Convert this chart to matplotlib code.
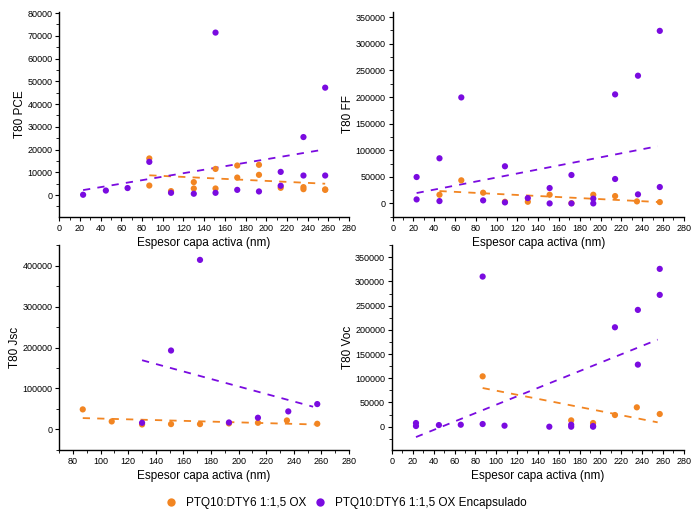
import matplotlib
matplotlib.use("Agg")
import matplotlib.pyplot as plt
from matplotlib.ticker import MultipleLocator, FixedLocator
import numpy as np

plt.rcParams['font.family'] = ['Liberation Sans', 'DejaVu Sans']

ORANGE = '#F28522'
PURPLE = '#7A0BE0'
label_or = 'PTQ10:DTY6 1:1,5 OX'
label_pu = 'PTQ10:DTY6 1:1,5 OX Encapsulado'
xlabel = 'Espesor capa activa (nm)'

# ---- T80 PCE ----
pce_or_x = [87, 87, 108, 130, 130, 151, 151, 172, 172, 193, 193, 214, 236, 236, 257, 257]
pce_or_y = [16100, 4200, 1750, 5700, 2900, 11500, 2900, 13000, 7700, 13300, 8900, 3200, 3500, 2600, 2500, 2300]
pce_pu_x = [23, 45, 66, 87, 108, 130, 151, 151, 172, 193, 214, 214, 236, 236, 257, 257]
pce_pu_y = [150, 2000, 3100, 14600, 1000, 600, 71400, 1000, 2300, 1600, 10200, 4100, 25500, 8600, 47200, 8600]
pce_tr_or_x = [87, 257]
pce_tr_or_y = [8700, 5000]
pce_tr_pu_x = [23, 257]
pce_tr_pu_y = [2200, 20100]
pce_yticks = [0, 10000, 20000, 30000, 40000, 50000, 60000, 70000, 80000]

# ---- T80 FF ----
ff_or_x = [45, 66, 87, 108, 130, 151, 172, 193, 214, 235, 257]
ff_or_y = [16300, 43400, 20100, 3100, 3100, 16300, 500, 16300, 13800, 3800, 2500]
ff_pu_x = [23, 23, 45, 45, 66, 87, 108, 108, 130, 151, 151, 172, 172, 193, 193, 214, 214, 236, 236, 257, 257]
ff_pu_y = [49600, 7500, 84800, 4400, 199200, 5700, 69800, 1900, 10000, 28900, 0, 53400, 0, 9000, 0, 204900, 45900, 240000, 17000, 324300, 30800]
ff_tr_or_x = [45, 257]
ff_tr_or_y = [23200, 2500]
ff_tr_pu_x = [23, 255]
ff_tr_pu_y = [19500, 107500]
ff_yticks = [0, 50000, 100000, 150000, 200000, 250000, 300000, 350000]

# ---- T80 Jsc ----
jsc_or_x = [87, 108, 130, 151, 172, 193, 214, 235, 257]
jsc_or_y = [49000, 19600, 12200, 13100, 13100, 14700, 16300, 22000, 13900]
jsc_pu_x = [130, 151, 172, 193, 214, 236, 257]
jsc_pu_y = [16300, 192700, 413900, 17100, 28600, 44100, 62000]
jsc_tr_or_x = [87, 255]
jsc_tr_or_y = [27800, 12200]
jsc_tr_pu_x = [130, 254]
jsc_tr_pu_y = [169000, 55500]
jsc_yticks = [0, 100000, 200000, 300000, 400000]

# ---- T80 Voc ----
voc_or_x = [87, 172, 193, 214, 235, 257]
voc_or_y = [104000, 13100, 7600, 24100, 40000, 26200]
voc_pu_x = [23, 23, 45, 66, 87, 87, 108, 151, 172, 172, 193, 193, 214, 236, 236, 257, 257]
voc_pu_y = [7600, 1400, 3400, 4100, 310000, 5500, 2100, 0, 4100, 0, 1400, 0, 205300, 241200, 128200, 325900, 272200]
voc_tr_or_x = [87, 255]
voc_tr_or_y = [79900, 9000]
voc_tr_pu_x = [23, 255]
voc_tr_pu_y = [-21400, 179800]
voc_yticks = [0, 50000, 100000, 150000, 200000, 250000, 300000, 350000]

fig = plt.figure(figsize=(6.92, 5.16), dpi=100)

panels = [
    dict(rect=[0.0857, 0.580, 0.4186, 0.397], ylabel='T80 PCE', xlim=(0, 280), ylim=(-9500, 80500),
         yticks=pce_yticks, ymin=5000,
         orx=pce_or_x, ory=pce_or_y, pux=pce_pu_x, puy=pce_pu_y,
         tox=pce_tr_or_x, toy=pce_tr_or_y, tpx=pce_tr_pu_x, tpy=pce_tr_pu_y),
    dict(rect=[0.5675, 0.580, 0.4205, 0.397], ylabel='T80 FF', xlim=(0, 280), ylim=(-25000, 360000),
         yticks=ff_yticks, ymin=25000,
         orx=ff_or_x, ory=ff_or_y, pux=ff_pu_x, puy=ff_pu_y,
         tox=ff_tr_or_x, toy=ff_tr_or_y, tpx=ff_tr_pu_x, tpy=ff_tr_pu_y),
    dict(rect=[0.0857, 0.128, 0.4186, 0.397], ylabel='T80 Jsc', xlim=(70, 280), ylim=(-50000, 450000),
         yticks=jsc_yticks, ymin=50000,
         orx=jsc_or_x, ory=jsc_or_y, pux=jsc_pu_x, puy=jsc_pu_y,
         tox=jsc_tr_or_x, toy=jsc_tr_or_y, tpx=jsc_tr_pu_x, tpy=jsc_tr_pu_y),
    dict(rect=[0.5665, 0.128, 0.4215, 0.397], ylabel='T80 Voc', xlim=(0, 280), ylim=(-48000, 375000),
         yticks=voc_yticks, ymin=25000,
         orx=voc_or_x, ory=voc_or_y, pux=voc_pu_x, puy=voc_pu_y,
         tox=voc_tr_or_x, toy=voc_tr_or_y, tpx=voc_tr_pu_x, tpy=voc_tr_pu_y),
]

for p in panels:
    ax = fig.add_axes(p['rect'])
    ax.set_facecolor('none')
    ax.plot(p['tox'], p['toy'], color=ORANGE, lw=1.3, dashes=(4, 4), zorder=2)
    ax.plot(p['tpx'], p['tpy'], color=PURPLE, lw=1.3, dashes=(4, 4), zorder=2)
    ax.scatter(p['orx'], p['ory'], s=20, color=ORANGE, edgecolors='none', zorder=3)
    ax.scatter(p['pux'], p['puy'], s=20, color=PURPLE, edgecolors='none', zorder=3)
    ax.set_xlim(*p['xlim'])
    ax.set_ylim(*p['ylim'])
    ax.xaxis.set_major_locator(MultipleLocator(20))
    ax.xaxis.set_minor_locator(MultipleLocator(10))
    ax.yaxis.set_major_locator(FixedLocator(p['yticks']))
    ax.yaxis.set_minor_locator(MultipleLocator(p['ymin']))
    for s in ['top', 'right']:
        ax.spines[s].set_visible(False)
    for s in ['left', 'bottom']:
        ax.spines[s].set_linewidth(1.0)
    ax.tick_params(which='major', length=3, width=0.8, labelsize=6.5, pad=2)
    ax.tick_params(which='minor', length=2, width=0.6)
    ax.set_xlabel(xlabel, fontsize=8.5, labelpad=3)
    ax.set_ylabel(p['ylabel'], fontsize=8.5, labelpad=1)

h1 = plt.Line2D([], [], ls='none', marker='o', ms=6, color=ORANGE, mec='none')
h2 = plt.Line2D([], [], ls='none', marker='o', ms=6, color=PURPLE, mec='none')
fig.legend([h1, h2], [label_or, label_pu], loc='center', bbox_to_anchor=(0.5, 0.025), ncol=2,
           frameon=False, fontsize=8.5, handletextpad=0.8, columnspacing=0.6, handlelength=1.0)

fig.savefig('out.png', dpi=100)
